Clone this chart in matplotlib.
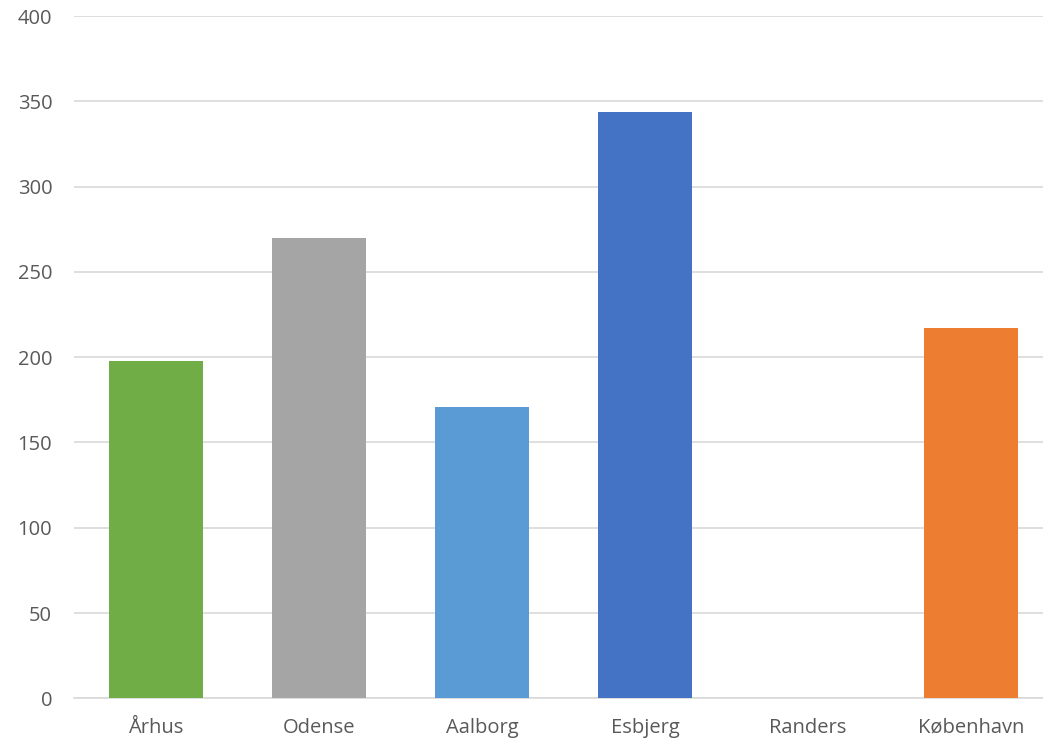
import matplotlib.pyplot as plt

# data
cities = ['Århus', 'Odense', 'Aalborg', 'Esbjerg', 'Randers', 'København']
values = [198, 270, 171, 344, 0, 217]
colors = ['#70AD47', '#A5A5A5', '#5B9BD5', '#4472C4', '#FFC000', '#ED7D31']

plt.rcParams['font.family'] = ['Open Sans', 'DejaVu Sans']

fig = plt.figure(figsize=(10.43, 7.42), dpi=100)
# plot area runs a little past the right edge, like the cropped original
ax = fig.add_axes([0.0714, 0.0589, 0.9377, 0.9195])

x = list(range(len(cities)))
ax.bar(x, values, width=0.578, color=colors, zorder=3)

ax.set_xlim(-0.5, len(cities) - 0.5)
ax.set_ylim(0, 400)
ax.set_yticks(range(0, 401, 50))
ax.set_xticks(x)
ax.set_xticklabels(cities)

ax.grid(axis='y', color='#D9D9D9', linewidth=1.2, zorder=0)
for side in ['top', 'right', 'left']:
    ax.spines[side].set_visible(False)
ax.spines['bottom'].set_color('#D9D9D9')
ax.spines['bottom'].set_linewidth(1.2)

ax.tick_params(axis='both', length=0, labelsize=14.5, labelcolor='#595959')
ax.tick_params(axis='y', pad=16)
ax.tick_params(axis='x', pad=14)

fig.savefig('out.png', dpi=100)
